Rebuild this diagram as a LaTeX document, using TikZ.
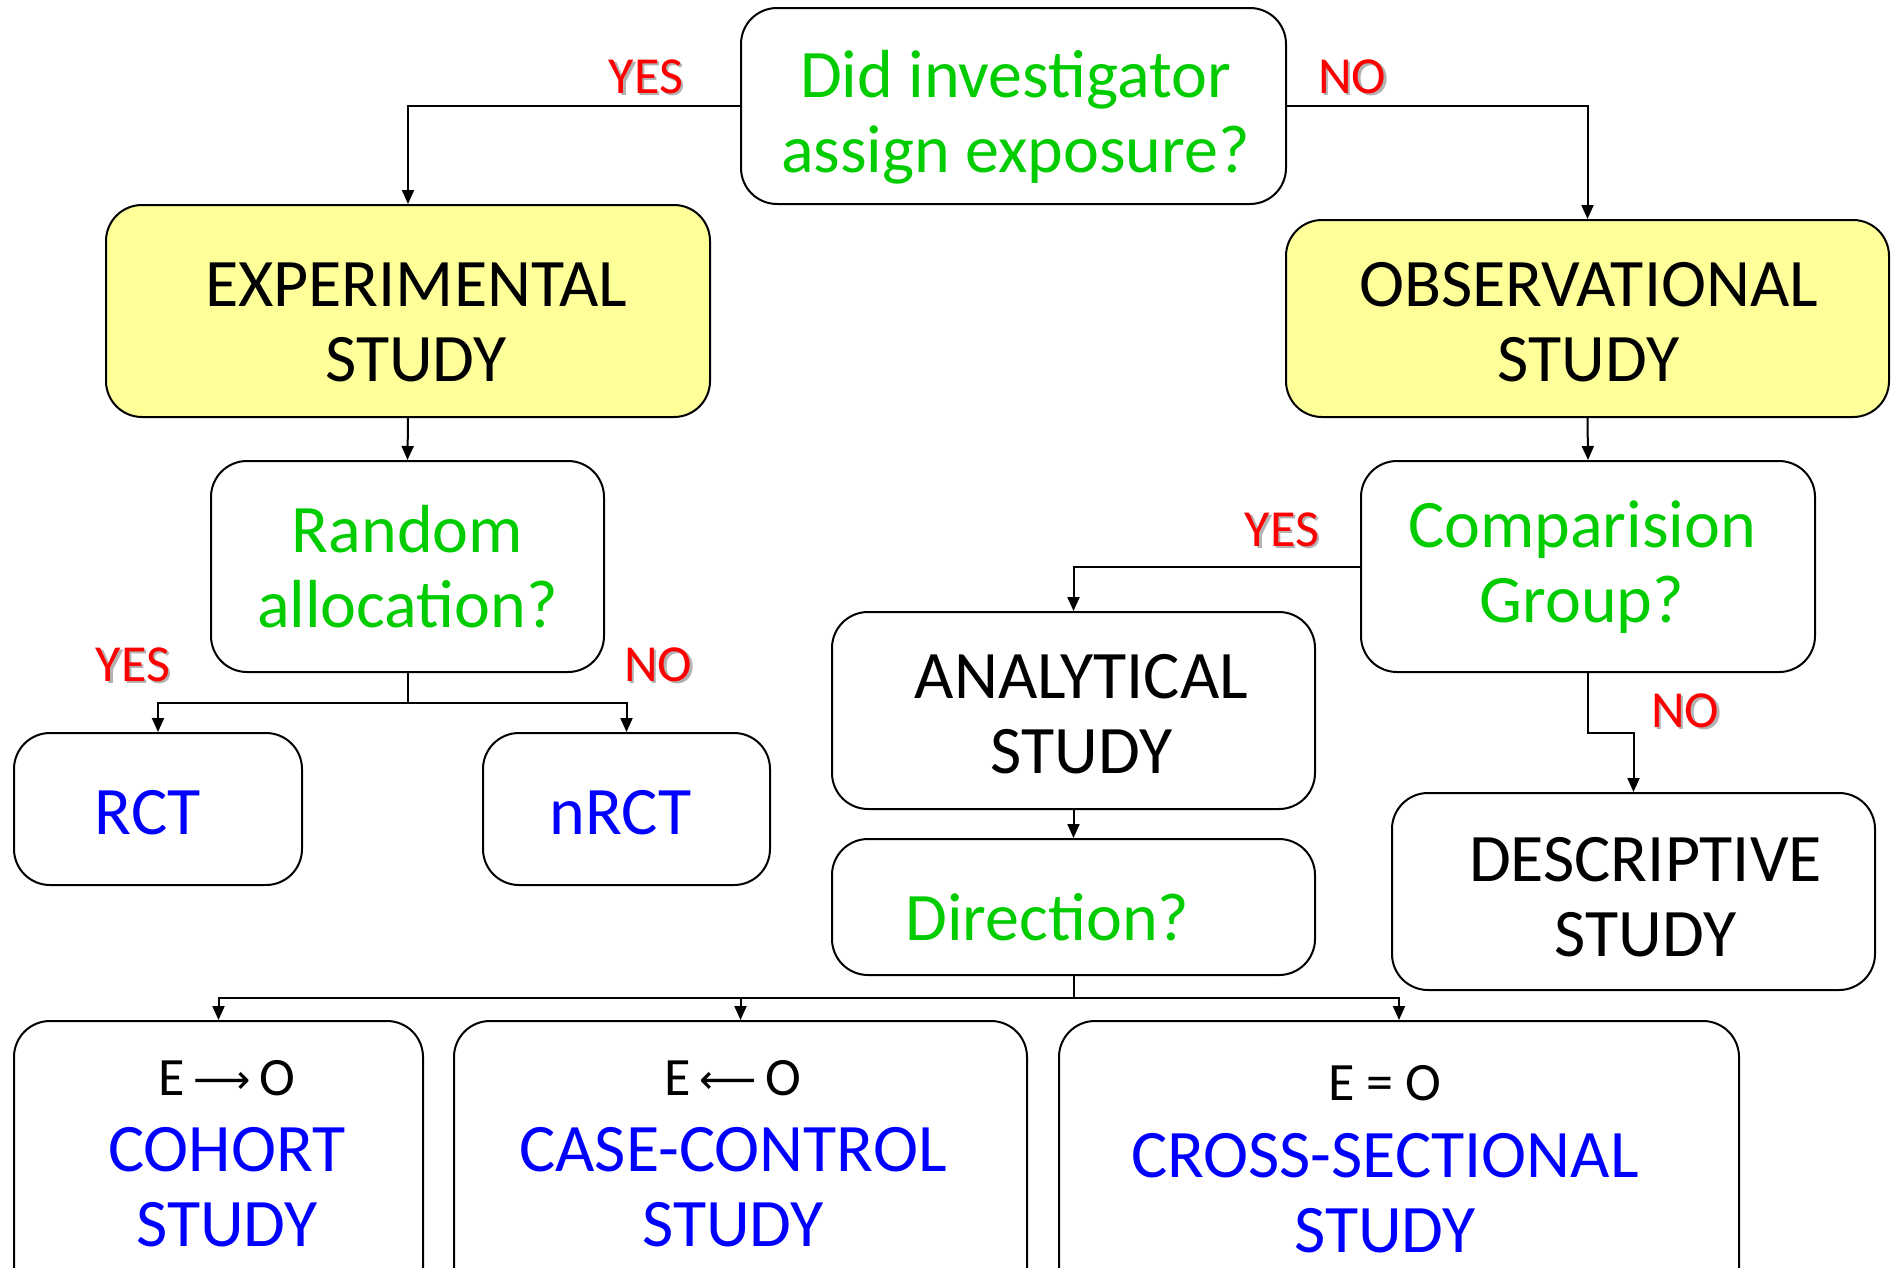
\documentclass[tikz,border=0pt]{standalone}
\usepackage{fontspec}
\setmainfont{Carlito}
\newfontfamily\djv{DejaVu Sans}
\usetikzlibrary{arrows.meta}
\definecolor{qgreen}{RGB}{0,204,0}
\definecolor{qblue}{RGB}{0,0,255}
\definecolor{qyellow}{RGB}{255,255,153}
\definecolor{qred}{RGB}{255,0,0}
\newcommand{\shtxt}[1]{\makebox[0pt][l]{\hspace{2.5pt}\raisebox{-2.5pt}{\textcolor{black!30}{#1}}}\textcolor{qred}{#1}}
\newcommand{\tl}[3]{\hspace*{#1}\raisebox{#2}[\height][\depth]{\begin{tabular}{@{}c@{}}#3\end{tabular}}\hspace*{-#1}}
\newcommand{\arw}[1]{\,{\djv\fontsize{40}{40}\selectfont\raisebox{2pt}{#1}}\,}
\begin{document}
\begin{tikzpicture}[x=1pt,y=-1pt,
  box/.style={draw, line width=2pt, rounded corners=36pt, inner sep=0pt, fill=white},
  ybox/.style={box, fill=qyellow},
  gtxt/.style={text=qgreen, font=\fontsize{68}{75}\selectfont},
  ktxt/.style={text=black, font=\fontsize{68}{75}\selectfont},
  btxt/.style={text=qblue, font=\fontsize{68}{75}\selectfont},
  etxt/.style={text=black, font=\fontsize{54}{60}\selectfont, inner sep=0pt},
  lbl/.style={font=\fontsize{52}{56}\selectfont, inner sep=0pt},
  arr/.style={line width=2pt, -{Triangle[length=14pt,width=12pt]}},
  ln/.style={line width=2pt}]
\useasboundingbox (0,0) rectangle (1893,1267);
\clip (0,0) rectangle (1893,1267);
\fill[white] (0,0) rectangle (1893,1267);

\node[box, gtxt, minimum width=545pt, minimum height=196pt] (top) at (1013.5,106) {\tl{2pt}{-14pt}{Did investigator\\assign exposure?}};
\node[ybox, ktxt, minimum width=604pt, minimum height=212pt] (exp) at (408,311) {\tl{8pt}{-18pt}{EXPERIMENTAL\\STUDY}};
\node[ybox, ktxt, minimum width=603pt, minimum height=197pt] (obs) at (1587.5,318.5) {\tl{1pt}{-10pt}{OBSERVATIONAL\\STUDY}};
\node[box, gtxt, minimum width=393pt, minimum height=211pt] (rand) at (407.5,566.5) {\tl{0pt}{-8pt}{Random\\allocation?}};
\node[box, gtxt, minimum width=454pt, minimum height=211pt] (comp) at (1588,566.5) {\tl{-6pt}{-3pt}{Comparision\\Group?}};
\node[box, btxt, minimum width=288pt, minimum height=152pt] (rct) at (158,809) {\tl{-10pt}{-10pt}{RCT}};
\node[box, btxt, minimum width=287pt, minimum height=152pt] (nrct) at (626.5,809) {\tl{-6pt}{-10pt}{nRCT}};
\node[box, ktxt, minimum width=483pt, minimum height=197pt] (anal) at (1073.5,710.5) {\tl{8pt}{-10pt}{ANALYTICAL\\STUDY}};
\node[box, gtxt, minimum width=483pt, minimum height=136pt] (dir) at (1073.5,907) {\tl{-26pt}{-18pt}{Direction?}};
\node[box, ktxt, minimum width=483pt, minimum height=197pt] (desc) at (1633.5,891.5) {\tl{12pt}{-12pt}{DESCRIPTIVE\\STUDY}};

\node[box, minimum width=409pt, minimum height=400pt, anchor=north] (coh) at (218.5,1020) {};
\node[box, minimum width=573pt, minimum height=400pt, anchor=north] (cc) at (740.5,1020) {};
\node[box, minimum width=680pt, minimum height=400pt, anchor=north] (cs) at (1399,1020) {};

\node[etxt] (cohe) at (227,1078) {E\arw{⟶}O};
\node[btxt, align=center, inner sep=0pt] (coht) at (227,1187) {COHORT\\STUDY};
\node[etxt] (cce) at (733,1078) {E\arw{⟵}O};
\node[btxt, align=center, inner sep=0pt] (cct) at (733,1187) {CASE-CONTROL\\STUDY};
\node[etxt] (cse) at (1385,1083) {E = O};
\node[btxt, align=center, inner sep=0pt] (cst) at (1385,1193) {CROSS-SECTIONAL\\STUDY};

% connectors
\draw[arr] (top.west) -| (exp.north);
\draw[arr] (top.east) -| (obs.north);
\draw[arr] (exp.south) -- (rand.north);
\coordinate (rj) at (407.5,703);
\draw[ln] (rand.south) -- (rj);
\draw[arr] (rj) -| (rct.north);
\draw[arr] (rj) -| (nrct.north);
\draw[arr] (obs.south) -- (comp.north);
\draw[arr] (comp.west) -| (anal.north);
\coordinate (cj) at (1588,733);
\draw[arr] (comp.south) -- (cj) -| (desc.north);
\draw[arr] (anal.south) -- (dir.north);
\coordinate (dj) at (1073.5,998);
\draw[ln] (dir.south) -- (dj);
\draw[arr] (dj) -| (coh.north);
\draw[arr] (dj) -| (cc.north);
\draw[arr] (dj) -| (cs.north);

% labels
\node[lbl] (l1) at (646,78) {\shtxt{YES}};
\node[lbl] (l2) at (1352,78) {\shtxt{NO}};
\node[lbl] (l3) at (133,666) {\shtxt{YES}};
\node[lbl] (l4) at (658,666) {\shtxt{NO}};
\node[lbl] (l5) at (1282,531) {\shtxt{YES}};
\node[lbl] (l6) at (1685,712) {\shtxt{NO}};
\end{tikzpicture}
\end{document}
